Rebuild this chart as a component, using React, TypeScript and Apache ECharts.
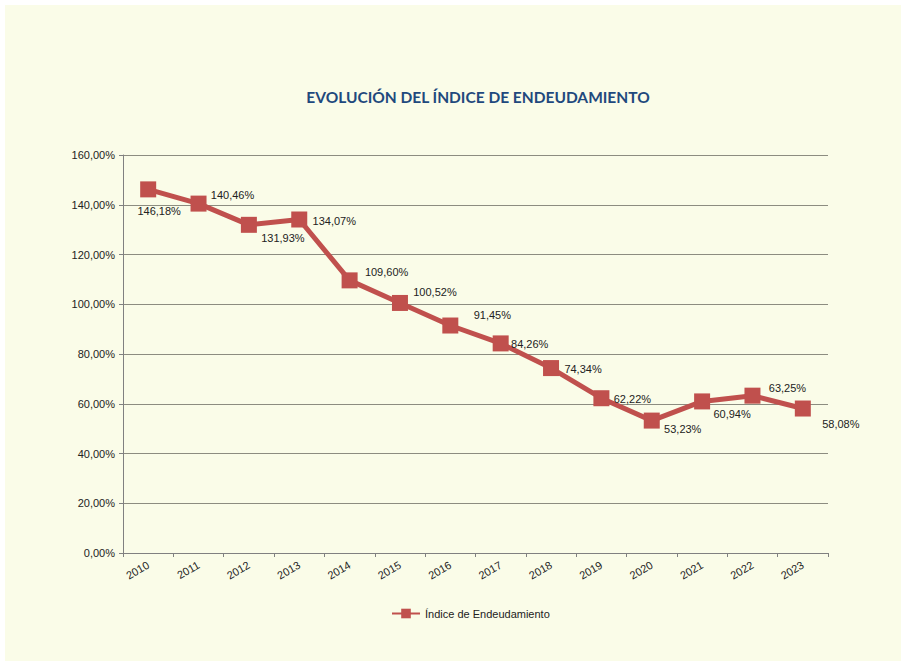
import React, { useEffect, useRef } from "react";
import * as echarts from "echarts";

const years = ["2010","2011","2012","2013","2014","2015","2016","2017","2018","2019","2020","2021","2022","2023"];
const values = [146.18,140.46,131.93,134.07,109.60,100.52,91.45,84.26,74.34,62.22,53.23,60.94,63.25,58.08];
const labelOffsets: number[][] = [[11,22],[34,-9],[34,13],[35,1],[37,-8],[35,-11],[42,-11],[29,1],[32,1],[31,1],[31,8],[30,13],[35,-8],[38,15]];
const seriesName = "Índice de Endeudamiento";
const titleText = "EVOLUCIÓN DEL ÍNDICE DE ENDEUDAMIENTO";

const fmt = (v: number) => v.toFixed(2).replace(".", ",") + "%";

export default function App() {
  const ref = useRef<HTMLDivElement>(null);
  useEffect(() => {
    const chart = echarts.init(ref.current!, null, { renderer: "svg" });
    const red = "#C0504D";
    chart.setOption({
      animation: false,
      backgroundColor: "#ffffff",
      graphic: [
        { type: "rect", z: -10, shape: { x: 5, y: 5, width: 901, height: 661 }, style: { fill: "#FAFCE8" }, silent: true },
      ],
      title: {
        text: titleText,
        left: 473,
        top: 84,
        textAlign: "center",
        textStyle: { fontFamily: "Lato", fontWeight: "bold", fontSize: 15.5, color: "#1F497D" },
      },
      legend: {
        data: [seriesName],
        left: 386,
        top: 603,
        itemWidth: 28,
        itemHeight: 12,
        itemGap: 8,
        textStyle: { fontFamily: "Liberation Sans, Arial", fontSize: 11, color: "#222" },
      },
      grid: { left: 123, right: 73, top: 155, bottom: 108, containLabel: false },
      xAxis: {
        type: "category",
        data: years,
        boundaryGap: true,
        axisLine: { lineStyle: { color: "#808080", width: 1 } },
        axisTick: { show: true, length: 4, lineStyle: { color: "#808080" } },
        axisLabel: { rotate: 30, fontFamily: "Liberation Sans, Arial", fontSize: 11, color: "#222", margin: 11 },
      },
      yAxis: {
        type: "value",
        min: 0,
        max: 160,
        interval: 20,
        axisLine: { show: true, lineStyle: { color: "#808080", width: 1 } },
        axisTick: { show: true, length: 4, lineStyle: { color: "#808080" } },
        splitLine: { lineStyle: { color: "#8C8C80", width: 1 } },
        axisLabel: { formatter: (v: number) => fmt(v), fontFamily: "Liberation Sans, Arial", fontSize: 11, color: "#222", margin: 8 },
      },
      series: [
        {
          name: seriesName,
          type: "line",
          data: values.map((v, i) => ({
            value: v,
            label: { offset: labelOffsets[i] },
          })),
          symbol: "rect",
          symbolSize: 16,
          lineStyle: { color: red, width: 5 },
          itemStyle: { color: red },
          label: {
            show: true,
            position: "inside",
            formatter: (p: any) => fmt(p.value),
            fontFamily: "Liberation Sans, Arial",
            fontSize: 11,
            color: "#222",
          },
        },
      ],
    });
    return () => chart.dispose();
  }, []);
  return <div ref={ref} style={{ position: "fixed", left: 0, top: 0, width: 901, height: 661 }} />;
}
